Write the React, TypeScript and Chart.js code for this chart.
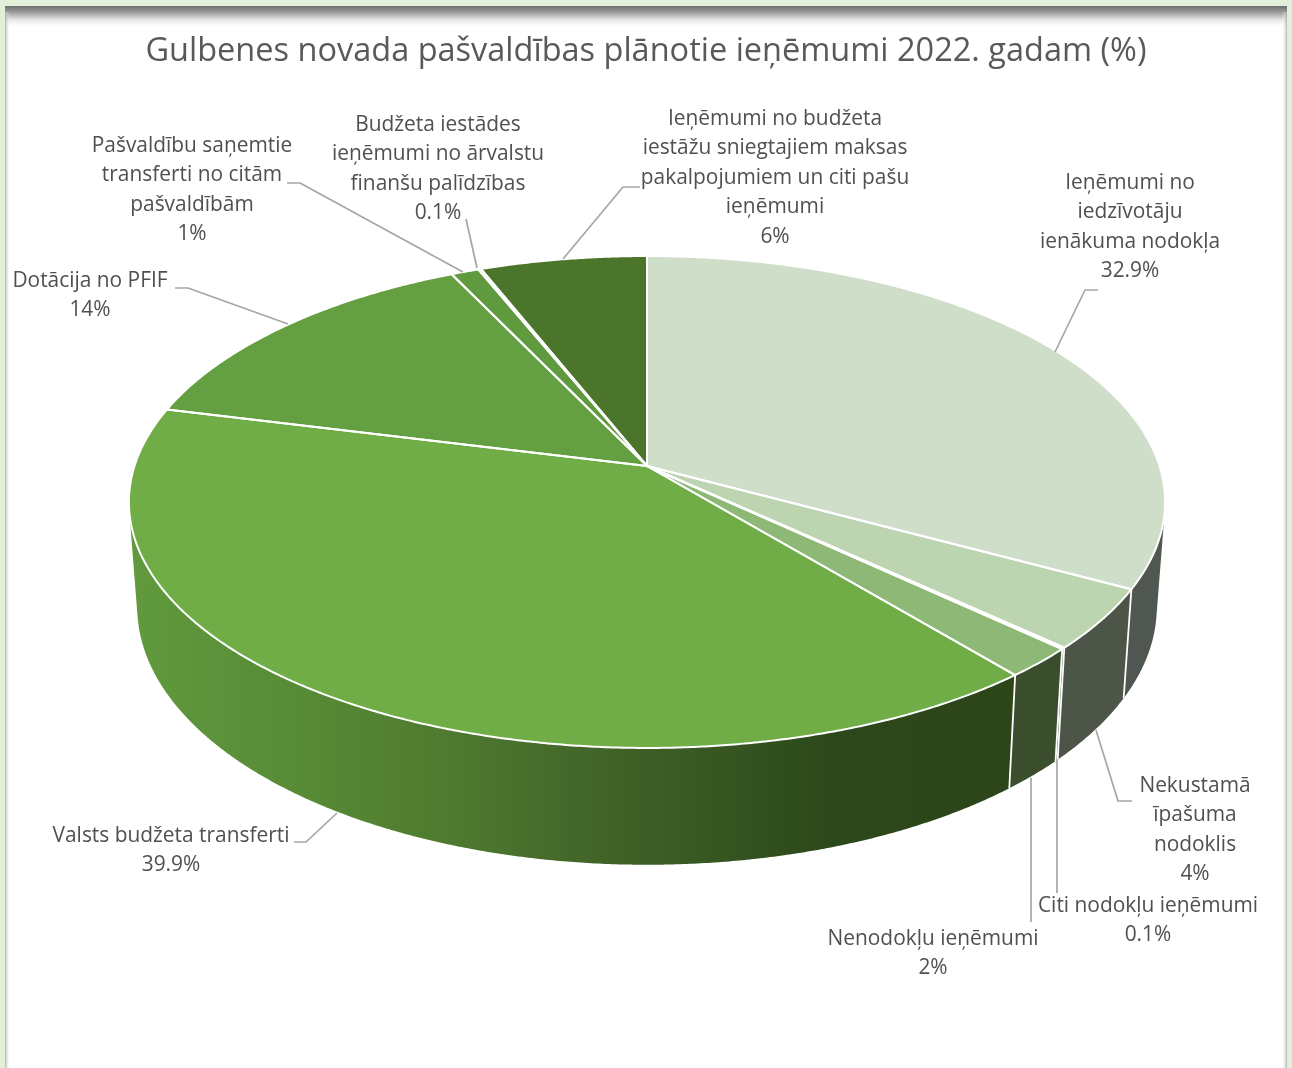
import React, { useEffect, useRef } from "react";
import { Chart, registerables } from "chart.js";

Chart.register(...registerables);

const chartTitle = "Gulbenes novada pašvaldības plānotie ieņēmumi 2022. gadam (%)";

const categories = [
  "Ieņēmumi no iedzīvotāju ienākuma nodokļa",
  "Nekustamā īpašuma nodoklis",
  "Citi nodokļu ieņēmumi",
  "Nenodokļu ieņēmumi",
  "Valsts budžeta transferti",
  "Dotācija no PFIF",
  "Pašvaldību saņemtie transferti no citām pašvaldībām",
  "Budžeta iestādes ieņēmumi no ārvalstu finanšu palīdzības",
  "Ieņēmumi no budžeta iestāžu sniegtajiem maksas pakalpojumiem un citi pašu ieņēmumi",
];
const values = [32.9, 4, 0.1, 2, 39.9, 14, 1, 0.1, 6];

const labelLines = [
  ["Ieņēmumi no", "iedzīvotāju", "ienākuma nodokļa"],
  ["Nekustamā", "īpašuma", "nodoklis"],
  ["Citi nodokļu ieņēmumi"],
  ["Nenodokļu ieņēmumi"],
  ["Valsts budžeta transferti"],
  ["Dotācija no PFIF"],
  ["Pašvaldību saņemtie", "transferti no citām", "pašvaldībām"],
  ["Budžeta iestādes", "ieņēmumi no ārvalstu", "finanšu palīdzības"],
  ["Ieņēmumi no budžeta", "iestāžu sniegtajiem maksas", "pakalpojumiem un citi pašu", "ieņēmumi"],
];

const topColors = ["#cfdec9", "#bcd4b0", "#a6c798", "#8db876", "#70ad47", "#649f41", "#5f9a3e", "#578c36", "#4b752b"];
const wallColors = ["#505650", "#4c5548", "#3f5232", "#3a4e2e", "#2c4519", "#4a752a", "#4a752a", "#4a752a", "#3c5f22"];

// Where each label block is centred (x, first line y) and its leader line.
const labelX = [1130, 1195, 1148, 933, 171, 90, 192, 438, 775];
const labelY = [183, 786, 906, 939, 836, 281, 146, 125, 119];
const leaders = [
  [[1055, 352], [1085, 290], [1098, 290]],
  [[1096, 730], [1118, 801], [1132, 801]],
  [[1057, 760], [1057, 893]],
  [[1031, 778], [1031, 922]],
  [[337, 813], [306, 842], [294, 842]],
  [[288, 324], [188, 288], [175, 288]],
  [[463, 272], [300, 183], [287, 183]],
  [[477, 268], [466, 219]],
  [[563, 259], [623, 187], [640, 187]],
];

// Perspective of the tilted disc.
const CX = 647, CY = 466, K = -0.1463, A = 240.7, B = 512.5;
const WALL_SX = 0.984, WALL_SY = 1.049, WALL_CY = 569;

const topPoint = (a: number) => {
  const x = Math.cos(a), y = Math.sin(a), d = 1 + K * y;
  return [CX + (B * x) / d, CY + (A * y) / d];
};
const wallPoint = (a: number) => {
  const [x, y] = topPoint(a);
  return [CX + (x - CX) * WALL_SX, WALL_CY + (y - CY) * WALL_SY];
};
const arcPoints = (s: number, e: number, f: (a: number) => number[]) => {
  const n = Math.max(2, Math.ceil((e - s) / 0.006));
  const out: number[][] = [];
  for (let i = 0; i <= n; i++) out.push(f(s + ((e - s) * i) / n));
  return out;
};

const disc3d = {
  id: "disc3d",
  beforeDraw(chart: any) {
    const c = chart.ctx;
    const W = chart.width, H = chart.height;
    c.save();
    c.fillStyle = "#e2efd9";
    c.fillRect(0, 0, W, H);
    c.fillStyle = "#ffffff";
    c.fillRect(5, 6, W - 10, H - 6);
    let g = c.createLinearGradient(0, 6, 0, 26);
    g.addColorStop(0, "#6e6e6e");
    g.addColorStop(0.3, "#9a9a9a");
    g.addColorStop(0.7, "#e8e8e8");
    g.addColorStop(1, "#ffffff");
    c.fillStyle = g;
    c.fillRect(5, 6, W - 10, 20);
    g = c.createLinearGradient(5, 0, 10, 0);
    g.addColorStop(0, "rgba(170,170,170,0.9)");
    g.addColorStop(1, "rgba(255,255,255,0)");
    c.fillStyle = g;
    c.fillRect(5, 12, 5, H - 12);
    g = c.createLinearGradient(W - 5, 0, W - 10, 0);
    g.addColorStop(0, "rgba(170,170,170,0.9)");
    g.addColorStop(1, "rgba(255,255,255,0)");
    c.fillStyle = g;
    c.fillRect(W - 10, 12, 5, H - 12);
    c.restore();
  },
  beforeDatasetsDraw(chart: any) {
    const c = chart.ctx;
    const arcs = chart.getDatasetMeta(0).data;
    c.save();
    c.lineJoin = "round";
    // walls: small quads of one winding in one path, so the band stays filled where it turns
    arcs.forEach((arc: any, i: number) => {
      const top = arcPoints(arc.startAngle, arc.endAngle, topPoint);
      const bot = arcPoints(arc.startAngle, arc.endAngle, wallPoint);
      let style: any = wallColors[i];
      if (i === 4) {
        const g = c.createLinearGradient(130, 0, 1010, 0);
        g.addColorStop(0, "#619a3e");
        g.addColorStop(0.2, "#578a36");
        g.addColorStop(0.36, "#4f7a2f");
        g.addColorStop(0.5, "#44682a");
        g.addColorStop(0.8, "#2c481a");
        g.addColorStop(1, "#2c4519");
        style = g;
      }
      c.fillStyle = style;
      c.beginPath();
      for (let j = 0; j < top.length - 1; j++) {
        let q = [top[j], top[j + 1], bot[j + 1], bot[j]];
        let area = 0;
        q.forEach((p, m) => {
          const n = q[(m + 1) % 4];
          area += p[0] * n[1] - n[0] * p[1];
        });
        if (area < 0) q = q.reverse();
        q.forEach((p, m) => (m ? c.lineTo(p[0], p[1]) : c.moveTo(p[0], p[1])));
        c.closePath();
      }
      c.fill("nonzero");
    });
    // wall seams
    c.strokeStyle = "#ffffff";
    c.lineWidth = 1.8;
    arcs.forEach((arc: any) => {
      const p = topPoint(arc.startAngle), q = wallPoint(arc.startAngle);
      c.beginPath();
      c.moveTo(p[0], p[1]);
      c.lineTo(q[0], q[1]);
      c.stroke();
    });
    // top face
    arcs.forEach((arc: any, i: number) => {
      const pts = arcPoints(arc.startAngle, arc.endAngle, topPoint);
      c.beginPath();
      c.moveTo(CX, CY);
      pts.forEach((p) => c.lineTo(p[0], p[1]));
      c.closePath();
      c.fillStyle = topColors[i];
      c.fill();
    });
    arcs.forEach((arc: any) => {
      const pts = arcPoints(arc.startAngle, arc.endAngle, topPoint);
      c.beginPath();
      c.moveTo(CX, CY);
      pts.forEach((p) => c.lineTo(p[0], p[1]));
      c.closePath();
      c.strokeStyle = "#ffffff";
      c.lineWidth = 2;
      c.stroke();
    });
    // leaders
    c.strokeStyle = "#a6a6a6";
    c.lineWidth = 1.7;
    leaders.forEach((l) => {
      c.beginPath();
      l.forEach((p, j) => (j ? c.lineTo(p[0], p[1]) : c.moveTo(p[0], p[1])));
      c.stroke();
    });
    // labels
    c.fillStyle = "#505050";
    c.font = '400 20.9px "Open Sans"';
    c.textAlign = "center";
    c.textBaseline = "middle";
    values.forEach((v, i) => {
      const lines = [...labelLines[i], `${v}%`];
      lines.forEach((t, j) => c.fillText(t, labelX[i], labelY[i] + j * 29.4));
    });
    c.restore();
    return false;
  },
};

export default function App() {
  const ref = useRef<HTMLCanvasElement | null>(null);
  useEffect(() => {
    document.body.style.margin = "0";
    const chart = new Chart(ref.current as HTMLCanvasElement, {
      type: "pie",
      data: {
        labels: categories,
        datasets: [{ data: values, backgroundColor: topColors, borderColor: "#ffffff" }],
      },
      options: {
        animation: false,
        responsive: false,
        devicePixelRatio: 1,
        layout: { padding: 0 },
        plugins: {
          legend: { display: false },
          tooltip: { enabled: false },
          title: {
            display: true,
            text: chartTitle,
            color: "#595959",
            font: { family: '"Open Sans"', size: 32.5, weight: "400" },
            padding: { top: 32, bottom: 10 },
          },
        },
      },
      plugins: [disc3d],
    } as any);
    return () => chart.destroy();
  }, []);
  return (
    <div style={{ width: 1292, height: 1068, overflow: "hidden" }}>
      <canvas ref={ref} width={1292} height={1068} style={{ display: "block" }} />
    </div>
  );
}
